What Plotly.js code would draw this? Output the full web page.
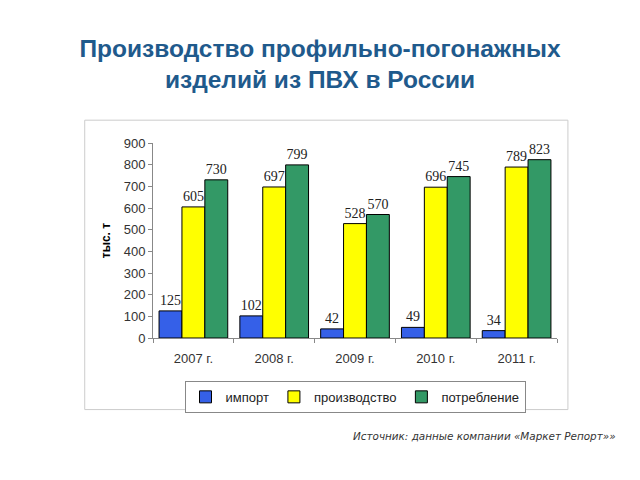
<!DOCTYPE html>
<html>
<head>
<meta charset="utf-8">
<script src="https://cdn.plot.ly/plotly-3.0.1.min.js"></script>
<style>
  body { margin: 0; background: white; }
  #chart { width: 640px; height: 480px; }
</style>
</head>
<body>
<div id="chart"></div>
<script>
const years = ['2007 г.', '2008 г.', '2009 г.', '2010 г.', '2011 г.'];
const importVals = [125, 102, 42, 49, 34];
const productionVals = [605, 697, 528, 696, 789];
const consumptionVals = [730, 799, 570, 745, 823];

const seriesNames = ['импорт', 'производство', 'потребление'];
const seriesColors = ['#3560e8', '#ffff00', '#339966'];
const seriesData = [importVals, productionVals, consumptionVals];

const traces = seriesData.map((vals, i) => ({
    x: years,
    y: vals,
    type: 'bar',
    name: seriesNames[i],
    marker: { color: seriesColors[i], line: { color: '#000', width: 1 } },
    text: vals.map(String),
    textposition: 'outside',
    cliponaxis: false,
    textfont: { family: 'Liberation Serif, Times New Roman, serif', size: 14, color: '#222' }
}));

const layout = {
    width: 640,
    height: 480,
    margin: { l: 153, r: 83, t: 143, b: 142 },
    paper_bgcolor: 'white',
    plot_bgcolor: 'white',
    showlegend: true,
    barmode: 'group',
    bargap: 0.15,
    bargroupgap: 0,
    font: { family: 'Liberation Sans, Arial, sans-serif', size: 12, color: '#333' },
    title: {
        text: 'Производство профильно-погонажных<br>изделий из ПВХ в России',
        font: { family: 'Liberation Sans, Arial, sans-serif', size: 24.5, color: '#1f5a8c', weight: 'bold' },
        x: 0.5, xanchor: 'center',
        y: 0.882, yanchor: 'top'
    },
    xaxis: {
        showline: true, linecolor: '#888', linewidth: 1,
        ticks: 'outside', tickson: 'boundaries', ticklen: 4, tickcolor: '#888',
        ticklabelstandoff: 8,
        tickfont: { size: 13, color: '#333' },
        showgrid: false
    },
    yaxis: {
        range: [0, 900],
        dtick: 100,
        showline: true, linecolor: '#888', linewidth: 1,
        ticks: 'outside', ticklen: 4, tickcolor: '#888',
        tickfont: { size: 13, color: '#333' },
        showgrid: false, zeroline: false,
        title: { text: 'тыс. т', font: { size: 12, color: '#000', weight: 'bold' }, standoff: 10 }
    },
    legend: {
        orientation: 'h',
        x: 0.5, xanchor: 'center',
        y: -0.22, yanchor: 'top',
        bordercolor: '#888', borderwidth: 1,
        font: { size: 13, color: '#222' },
        itemwidth: 30,
        tracegroupgap: 0,
        traceorder: 'normal'
    },
    shapes: [{
        type: 'rect', xref: 'paper', yref: 'paper',
        x0: -0.169, x1: 1.027, y0: -0.367, y1: 1.117,
        line: { color: '#ccc', width: 1 }
    }],
    annotations: [{
        text: 'Источник: данные компании «Маркет Репорт»»',
        xref: 'paper', yref: 'paper',
        x: 1.15, xanchor: 'right',
        y: -0.505, yanchor: 'middle',
        showarrow: false,
        font: { family: 'DejaVu Sans, Verdana, sans-serif', size: 10.4, color: '#333', style: 'italic' }
    }]
};

Plotly.newPlot('chart', traces, layout, { displayModeBar: false });
</script>
</body>
</html>
